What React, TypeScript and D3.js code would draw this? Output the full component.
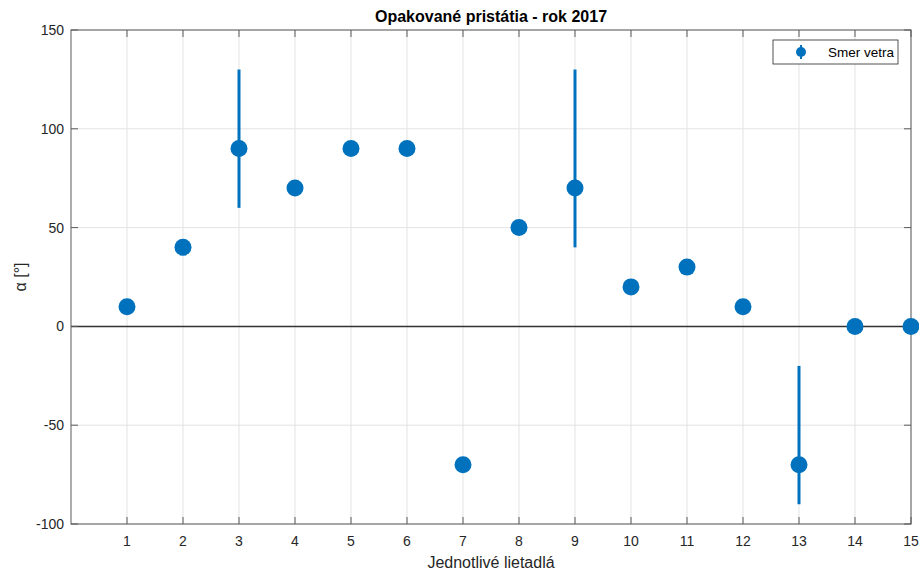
import React from 'react';
import * as d3 from 'd3';

// one value per plane, with asymmetric error bars
const planes = [1, 2, 3, 4, 5, 6, 7, 8, 9, 10, 11, 12, 13, 14, 15];
const angles = [10, 40, 90, 70, 90, 90, -70, 50, 70, 20, 30, 10, -70, 0, 0];
const errLow = [0, 0, 30, 0, 0, 0, 0, 0, 30, 0, 0, 0, 20, 0, 0];
const errHigh = [0, 0, 40, 0, 0, 0, 0, 0, 60, 0, 0, 0, 50, 0, 0];
const yTicks = [-100, -50, 0, 50, 100, 150];

const title = 'Opakované pristátia - rok 2017';
const xTitle = 'Jednotlivé lietadlá';
const yTitle = 'α [°]';
const legendLabel = 'Smer vetra';

const W = 919, H = 574;
const margin = { top: 30, right: 8, bottom: 50, left: 71 };
const blue = '#0072BD';
const axisColor = '#5a5a5a';
const font = '"Liberation Sans", Arial, Helvetica, sans-serif';

export default function App() {
    const w = W - margin.left - margin.right,
        h = H - margin.top - margin.bottom;

    const x = d3.scaleLinear().domain([0, 15]).range([0, w]);
    const y = d3.scaleLinear().domain([-100, 150]).range([h, 0]);

    const zero = d3.line<number>()
        .x(d => x(d))
        .y(() => y(0));

    return (
        <svg width={W} height={H} style={{ position: 'absolute', left: 0, top: 0, fontFamily: font }}>
            <rect width={W} height={H} fill="#fff" />
            <text x={margin.left + w / 2} y={22} textAnchor="middle" fontSize={16} fontWeight="bold" fill="#000">{title}</text>
            <g transform={`translate(${margin.left},${margin.top})`}>
                {/* grid */}
                {planes.map(p => (
                    <line key={'gx' + p} x1={x(p)} x2={x(p)} y1={0} y2={h} stroke="#e3e3e3" strokeWidth={1} />
                ))}
                {yTicks.map(t => (
                    <line key={'gy' + t} x1={0} x2={w} y1={y(t)} y2={y(t)} stroke="#e3e3e3" strokeWidth={1} />
                ))}
                <path d={zero([0, 15]) || ''} stroke="#333" strokeWidth={1.5} fill="none" />

                {/* box + ticks */}
                <rect x={0} y={0} width={w} height={h} fill="none" stroke={axisColor} strokeWidth={1} />
                {planes.map(p => (
                    <g key={'tx' + p}>
                        <line x1={x(p)} x2={x(p)} y1={h} y2={h - 7} stroke={axisColor} />
                        <line x1={x(p)} x2={x(p)} y1={0} y2={7} stroke={axisColor} />
                        <text x={x(p)} y={h + 22} textAnchor="middle" fontSize={14} fill="#262626">{p}</text>
                    </g>
                ))}
                {yTicks.map(t => (
                    <g key={'ty' + t}>
                        <line x1={0} x2={7} y1={y(t)} y2={y(t)} stroke={axisColor} />
                        <line x1={w} x2={w - 7} y1={y(t)} y2={y(t)} stroke={axisColor} />
                        <text x={-7} y={y(t) + 5} textAnchor="end" fontSize={14} fill="#262626">{t}</text>
                    </g>
                ))}

                {/* error bars and markers */}
                {planes.map((p, i) => (
                    <g key={'pt' + p}>
                        {(errLow[i] > 0 || errHigh[i] > 0) && (
                            <line x1={x(p)} x2={x(p)} y1={y(angles[i] + errHigh[i])} y2={y(angles[i] - errLow[i])}
                                stroke={blue} strokeWidth={3} />
                        )}
                        <circle cx={x(p)} cy={y(angles[i])} r={8.5} fill={blue} />
                    </g>
                ))}

                {/* legend */}
                <g transform={`translate(${773 - margin.left},${40 - margin.top})`}>
                    <rect x={0} y={0} width={125} height={24} fill="#fff" stroke="#262626" strokeWidth={0.8} />
                    <line x1={28} x2={28} y1={5} y2={19} stroke={blue} strokeWidth={2} />
                    <circle cx={28} cy={12} r={5} fill={blue} />
                    <text x={55} y={16.5} fontSize={13.5} fill="#000">{legendLabel}</text>
                </g>
            </g>
            <text x={margin.left + w / 2} y={568} textAnchor="middle" fontSize={16} fill="#262626">{xTitle}</text>
            <text transform={`translate(26,${margin.top + h / 2}) rotate(-90)`} textAnchor="middle" fontSize={16} fill="#262626">{yTitle}</text>
        </svg>
    );
}
